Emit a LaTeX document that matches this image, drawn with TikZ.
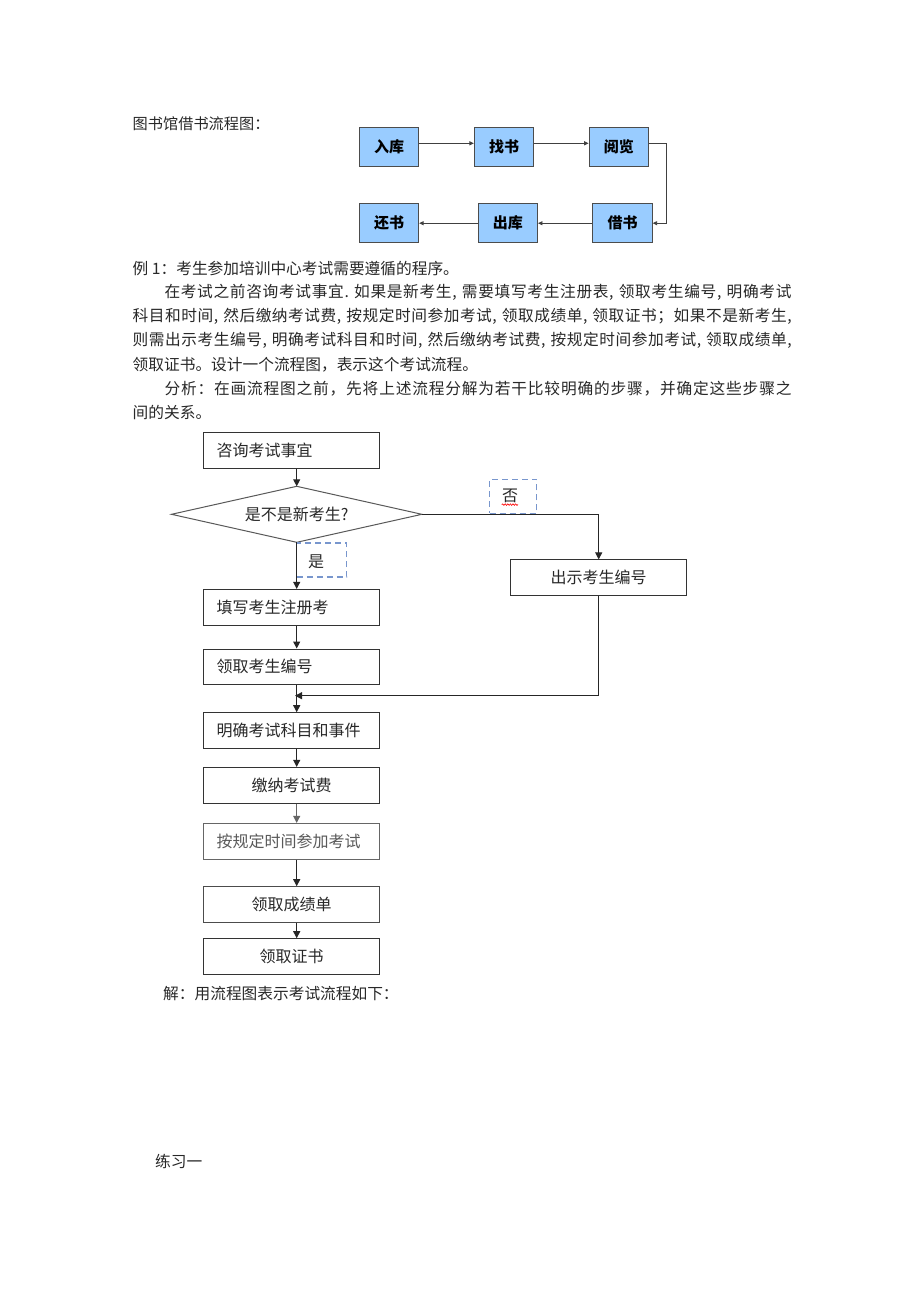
\documentclass[tikz,border=0pt]{standalone}
\usepackage{fontspec}
\newfontfamily\cjk{Noto Sans CJK SC}
\newcommand\myspace{\hskip 0.25em\relax}
\ExplSyntaxOn
\tl_new:N \l_my_line_tl
\cs_new_protected:Npn \spreadline #1 #2
  {
    \tl_set:Nn \l_my_line_tl {#2}
    \tl_replace_all:Nnn \l_my_line_tl {~} {\myspace}
    \makebox[#1][s]{ \tl_map_inline:Nn \l_my_line_tl { ##1 \hskip 0pt plus 1fil } \unskip }
  }
\ExplSyntaxOff
\usetikzlibrary{arrows.meta,decorations.pathmorphing}
\definecolor{libblue}{RGB}{153,204,255}
\definecolor{dashblue}{RGB}{120,150,205}
\definecolor{inkgray}{RGB}{40,40,40}
\begin{document}
\begin{tikzpicture}[x=1pt,y=-1pt,
  txt/.style={anchor=west, inner sep=0pt, text=inkgray, font=\cjk\fontsize{15.7}{18}\selectfont},
  libbox/.style={draw=black!70, fill=libblue, line width=0.9pt, minimum width=59.4pt, minimum height=38.7pt, inner sep=0pt, font=\cjk\fontsize{15}{15}\selectfont\bfseries},
  tarr/.style={draw=black!75, line width=0.9pt, -{Triangle[length=4.5pt,width=4pt]}},
  stepbox/.style={draw=black!80, line width=1pt, fill=white, minimum height=35.6pt, inner xsep=13pt, inner ysep=0pt, text width=150.2pt, font=\cjk\fontsize{16}{16}\selectfont, text=inkgray},
  leftbox/.style={stepbox, align=left},
  midbox/.style={stepbox, align=center},
  decide/.style={rectangle, minimum width=250pt, minimum height=55.6pt, inner sep=0pt, font=\cjk\fontsize{16}{16}\selectfont, text=inkgray},
  tagbox/.style={draw=dashblue, line width=1.2pt, dash pattern=on 6pt off 4pt, minimum width=47pt, minimum height=34pt, inner sep=0pt},
  tagtxt/.style={inner sep=0pt, font=\cjk\fontsize{16}{16}\selectfont, text=inkgray},
  farr/.style={draw=black!85, line width=1pt, -{Triangle[length=7pt,width=7pt]}},
  garr/.style={farr, draw=black!60}
]
\useasboundingbox (0,0) rectangle (920,1302);
\fill[white] (0,0) rectangle (920,1302);

% ---------- library flowchart ----------
\node[txt, font=\cjk\fontsize{15.2}{18}\selectfont] (title) at (132.5,124) {图书馆借书流程图：};
\node[libbox] (rk) at (389,146.7) {入库};
\node[libbox] (zs) at (504,146.7) {找书};
\node[libbox] (yl) at (618.8,146.7) {阅览};
\node[libbox] (js) at (622.5,223.2) {借书};
\node[libbox] (ck) at (507.8,223.2) {出库};
\node[libbox] (hs) at (389,223.2) {还书};
\coordinate (rc) at (666,143.3);
\draw[tarr] ([yshift=3.4pt]rk.east) -- ([yshift=3.4pt]zs.west);
\draw[tarr] ([yshift=3.4pt]zs.east) -- ([yshift=3.4pt]yl.west);
\draw[tarr] ([yshift=3.4pt]yl.east) -- (rc) |- (js.east);
\draw[tarr] (js.west) -- (ck.east);
\draw[tarr] (ck.west) -- (hs.east);

% ---------- paragraph text ----------
\node[txt] (l1) at (132.5,268.3) {例 1：考生参加培训中心考试需要遵循的程序。};
\node[txt] (l2) at (164.3,292.4) {\spreadline{627pt}{在考试之前咨询考试事宜. 如果是新考生, 需要填写考生注册表, 领取考生编号, 明确考试}};
\node[txt] (l3) at (132.5,316.5) {\spreadline{659pt}{科目和时间, 然后缴纳考试费, 按规定时间参加考试, 领取成绩单, 领取证书；如果不是新考生,}};
\node[txt] (l4) at (132.5,340.6) {\spreadline{659pt}{则需出示考生编号, 明确考试科目和时间, 然后缴纳考试费, 按规定时间参加考试, 领取成绩单,}};
\node[txt] (l5) at (132.5,364.7) {领取证书。设计一个流程图，表示这个考试流程。};
\node[txt] (l6) at (164.3,388.8) {\spreadline{627pt}{分析：在画流程图之前，先将上述流程分解为若干比较明确的步骤，并确定这些步骤之}};
\node[txt] (l7) at (132.5,412.4) {间的关系。};

% ---------- exam flowchart ----------
\node[leftbox] (q) at (291.6,450.5) {咨询考试事宜};
\node[decide] (d) at (296.7,514.3) {是不是新考生?};
\draw[draw=black!65, line width=1pt] (d.north) -- (d.east) -- (d.south) -- (d.west) -- cycle;
\node[midbox] (c) at (598.7,577.7) {出示考生编号};
\node[leftbox] (f) at (291.6,607.2) {填写考生注册考};
\node[leftbox] (l) at (291.6,666.8) {领取考生编号};
\node[leftbox] (m) at (291.6,730.5) {明确考试科目和事件};
\node[midbox] (p) at (291.6,785.2) {缴纳考试费};
\node[leftbox, draw=black!60, text=black!65] (k) at (291.6,841.2) {按规定时间参加考试};
\node[midbox, draw=black!70] (r) at (291.6,904.5) {领取成绩单};
\node[midbox] (z) at (291.6,956.5) {领取证书};

\node[tagbox] (nobox) at (513.3,496.3) {};
\node[tagtxt] (no) at (510,495.5) {否};
\draw[red, line width=0.6pt, decorate, decoration={snake, amplitude=0.8pt, segment length=2.6pt}] ([yshift=-2pt]no.south west) -- ([yshift=-2pt]no.south east);
\node[tagbox, minimum width=50pt] (yesbox) at (321.8,560) {};
\node[tagtxt] (yes) at (316,561.5) {是};

\coordinate (j) at (295,695.7);
\draw[farr] (d.north |- q.south) -- (d.north);
\draw[farr] (d.south) -- (d.south |- f.north);
\draw[farr] (d.east) -| (c.north);
\draw[farr] (d.south |- f.south) -- (d.south |- l.north);
\draw[farr] (d.south |- l.south) -- (d.south |- m.north);
\draw[farr] (c.south) |- (j);
\draw[farr] (d.south |- m.south) -- (d.south |- p.north);
\draw[garr] (d.south |- p.south) -- (d.south |- k.north);
\draw[farr] (d.south |- k.south) -- (d.south |- r.north);
\draw[farr] (d.south |- r.south) -- (d.south |- z.north);

\node[txt] (sol) at (163,993.3) {解：用流程图表示考试流程如下：};
\node[txt] (ex) at (155,1161.7) {练习一};
\end{tikzpicture}
\end{document}
